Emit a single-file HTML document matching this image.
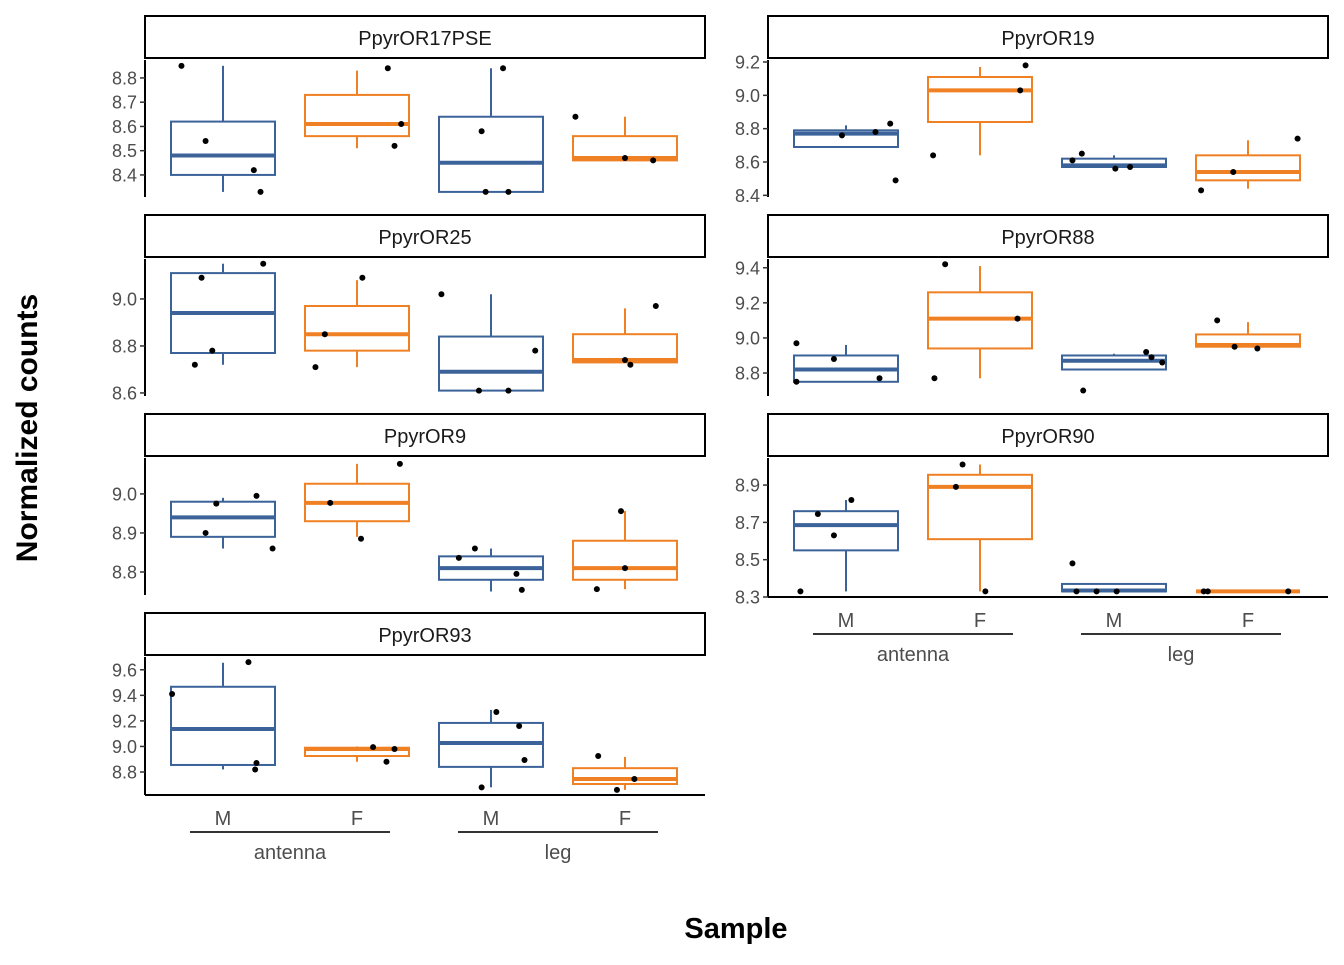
<!DOCTYPE html>
<html><head><meta charset="utf-8"><style>
body{margin:0;background:#fff;}
svg text{font-family:"Liberation Sans",Arial,sans-serif;}
</style></head><body>
<svg id="chart" width="1344" height="960" xmlns="http://www.w3.org/2000/svg"></svg>
<script>
const categories = ["M","F","M","F"];
const groups = ["antenna","leg"];
const panelTitles = ["PpyrOR17PSE","PpyrOR19","PpyrOR25","PpyrOR88","PpyrOR9","PpyrOR90","PpyrOR93"];
const yDomains = [[8.309,8.874],[8.39,9.212],[8.587,9.17],[8.669,9.45],[8.741,9.092],[8.3,9.045],[8.62,9.70]];
const yTicks = [[8.4,8.5,8.6,8.7,8.8],[8.4,8.6,8.8,9.0,9.2],[8.6,8.8,9.0],[8.8,9.0,9.2,9.4],[8.8,8.9,9.0],[8.3,8.5,8.7,8.9],[8.8,9.0,9.2,9.4,9.6]];
const tickDigits = 1;
// box stats per panel per category: [lowWhisker, q1, median, q3, highWhisker]
const boxStats = [
 [[8.33,8.40,8.48,8.62,8.85],[8.51,8.56,8.61,8.73,8.83],[8.33,8.33,8.45,8.64,8.84],[8.46,8.46,8.47,8.56,8.64]],
 [[8.69,8.69,8.77,8.79,8.82],[8.64,8.84,9.03,9.11,9.17],[8.57,8.57,8.58,8.62,8.64],[8.44,8.49,8.54,8.64,8.73]],
 [[8.72,8.77,8.94,9.11,9.15],[8.71,8.78,8.85,8.97,9.08],[8.61,8.61,8.69,8.84,9.02],[8.73,8.73,8.74,8.85,8.96]],
 [[8.75,8.75,8.82,8.90,8.96],[8.77,8.94,9.11,9.26,9.41],[8.82,8.82,8.87,8.90,8.91],[8.95,8.95,8.96,9.02,9.09]],
 [[8.86,8.89,8.94,8.98,8.99],[8.89,8.93,8.977,9.026,9.077],[8.75,8.78,8.81,8.84,8.86],[8.756,8.78,8.81,8.88,8.956]],
 [[8.33,8.55,8.685,8.76,8.82],[8.33,8.61,8.89,8.955,9.01],[8.33,8.33,8.335,8.37,8.37],[8.33,8.33,8.33,8.33,8.33]],
 [[8.82,8.855,9.137,9.467,9.655],[8.88,8.925,8.98,8.99,9.0],[8.68,8.84,9.027,9.184,9.286],[8.66,8.706,8.745,8.83,8.918]]
];
const pointValues = [
 [[8.85,8.54,8.42,8.33],[8.84,8.61,8.52],[8.84,8.58,8.33,8.33],[8.64,8.47,8.46]],
 [[8.76,8.78,8.83,8.49],[9.18,9.03,8.64],[8.65,8.61,8.56,8.57],[8.74,8.54,8.43]],
 [[9.15,9.09,8.78,8.72],[9.09,8.85,8.71],[9.02,8.78,8.61,8.61],[8.97,8.74,8.72]],
 [[8.97,8.88,8.77,8.75],[9.42,9.11,8.77],[8.92,8.89,8.86,8.70],[9.10,8.95,8.94]],
 [[8.995,8.975,8.90,8.86],[9.077,8.977,8.885],[8.86,8.836,8.795,8.754],[8.956,8.81,8.756]],
 [[8.82,8.745,8.63,8.33],[9.01,8.89,8.33],[8.48,8.33,8.33,8.33],[8.33,8.33,8.33]],
 [[9.66,9.41,8.87,8.82],[8.995,8.98,8.88],[9.27,9.16,8.894,8.68],[8.925,8.745,8.66]]
];
const pointJitter = [
 [[-0.31,-0.13,0.23,0.28],[0.23,0.33,0.28],[0.09,-0.07,-0.04,0.13],[-0.37,0,0.21]],
 [[-0.03,0.22,0.33,0.37],[0.34,0.30,-0.35],[-0.24,-0.31,0.01,0.12],[0.37,-0.11,-0.35]],
 [[0.30,-0.16,-0.08,-0.21],[0.04,-0.24,-0.31],[-0.37,0.33,-0.09,0.13],[0.23,0,0.04]],
 [[-0.37,-0.09,0.25,-0.37],[-0.26,0.28,-0.34],[0.24,0.28,0.36,-0.23],[-0.23,-0.1,0.07]],
 [[0.25,-0.05,-0.13,0.37],[0.32,-0.20,0.03],[-0.12,-0.24,0.19,0.23],[-0.03,0,-0.21]],
 [[0.04,-0.21,-0.09,-0.34],[-0.13,-0.18,0.04],[-0.31,-0.28,-0.13,0.02],[-0.33,-0.30,0.30]],
 [[0.19,-0.38,0.25,0.24],[0.12,0.28,0.22],[0.04,0.21,0.25,-0.07],[-0.20,0.07,-0.06]]
];
const colors = ["#3b6399","#f08024","#3b6399","#f08024"];

const svg = document.getElementById('chart');
const NS = "http://www.w3.org/2000/svg";
function mk(tag, attrs, parent){const e=document.createElementNS(NS,tag);for(const k in attrs)e.setAttribute(k,attrs[k]);(parent||svg).appendChild(e);return e;}

const colX=[145,768], panelW=560, rowTop=[16,215,414,613], stripH=42, plotTop=[60,259,458,657], plotH=137;
const catX0=78, catStep=134, boxW=104;

panelTitles.forEach((title,p)=>{
  const col=p%2,row=Math.floor(p/2);
  const x0=colX[col], top=plotTop[row];
  const bottom = (p===5)?597:(p===6?795:top+plotH);
  const [d0,d1]=yDomains[p];
  const yS=v=>bottom-(v-d0)/(d1-d0)*(bottom-top);
  const xS=i=>x0+catX0+i*catStep;
  const g=mk('g',{});
  
  
  const strip=mk('rect',{x:x0,y:rowTop[row],width:panelW,height:stripH,fill:'#fff',stroke:'#000','stroke-width':2},g);
  
  
  const st=mk('text',{x:x0+panelW/2,y:rowTop[row]+29,'text-anchor':'middle','font-size':20,fill:'#1a1a1a'},g);
  st.textContent=title;
  
  
  const ax=mk('line',{x1:x0,x2:x0,y1:top,y2:bottom,stroke:'#000','stroke-width':2},g);
  
  
  yTicks[p].forEach(t=>{
    const y=yS(t);
    mk('line',{x1:x0-5,x2:x0,y1:y,y2:y,stroke:'#333','stroke-width':1.5},g);
    const tl=mk('text',{x:x0-8,y:y+6.5,'text-anchor':'end','font-size':18,fill:'#4d4d4d'},g);
    tl.textContent=t.toFixed(tickDigits);
    
    
  });
  boxStats[p].forEach((b,i)=>{
    const cx=xS(i),c=colors[i];
    const bg=mk('g',{},g);
    
    
    mk('line',{x1:cx,x2:cx,y1:yS(b[3]),y2:yS(b[4]),stroke:c,'stroke-width':2},bg);
    mk('line',{x1:cx,x2:cx,y1:yS(b[0]),y2:yS(b[1]),stroke:c,'stroke-width':2},bg);
    mk('rect',{x:cx-boxW/2,y:yS(b[3]),width:boxW,height:Math.max(0,yS(b[1])-yS(b[3])),fill:'#fff',stroke:c,'stroke-width':2},bg);
    mk('line',{x1:cx-boxW/2,x2:cx+boxW/2,y1:yS(b[2]),y2:yS(b[2]),stroke:c,'stroke-width':4},bg);
  });
  pointValues[p].forEach((arr,i)=>{
    arr.forEach((v,k)=>{
      const pt=mk('circle',{cx:xS(i)+pointJitter[p][i][k]*catStep,cy:yS(v),r:3,fill:'#000'},g);
      
      
    });
  });
  if(p===5||p===6){
    const xa=mk('line',{x1:x0,x2:x0+panelW,y1:bottom,y2:bottom,stroke:'#000','stroke-width':2},g);
    
    
    categories.forEach((c,i)=>{
      const t=mk('text',{x:xS(i),y:bottom+30,'text-anchor':'middle','font-size':20,fill:'#4d4d4d'},g);
      t.textContent=c;
      
      
    });
    groups.forEach((gr,j)=>{
      const xa1=xS(j*2)-33,xa2=xS(j*2+1)+33;
      mk('line',{x1:xa1,x2:xa2,y1:bottom+37,y2:bottom+37,stroke:'#333','stroke-width':2},g);
      const t=mk('text',{x:(xa1+xa2)/2,y:bottom+64,'text-anchor':'middle','font-size':20,fill:'#4d4d4d'},g);
      t.textContent=gr;
      
      
    });
  }
});
const yt=mk('text',{x:0,y:0,transform:'translate(37,428) rotate(-90)','text-anchor':'middle','font-size':30,'font-weight':'bold',fill:'#000'});
yt.textContent='Normalized counts';


const xt=mk('text',{x:736,y:938,'text-anchor':'middle','font-size':29,'font-weight':'bold',fill:'#000'});
xt.textContent='Sample';


</script>
</body></html>
